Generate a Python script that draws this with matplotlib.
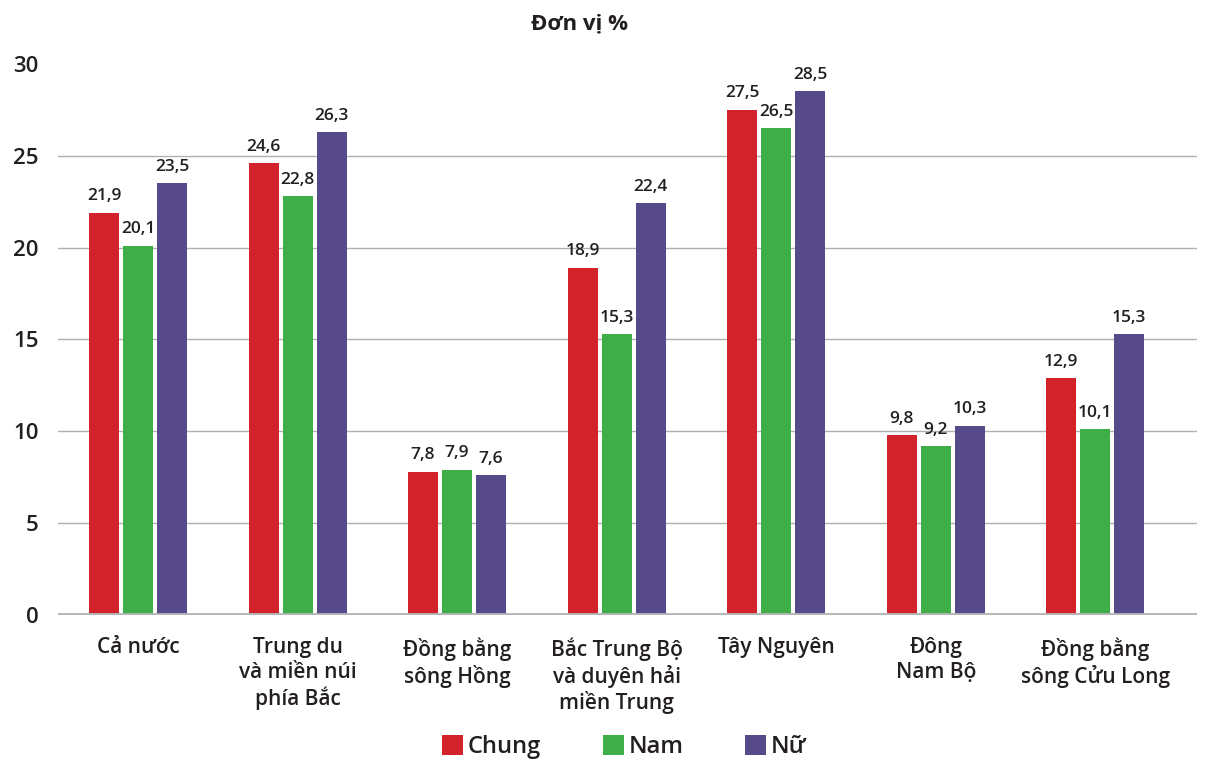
import matplotlib.pyplot as plt
import numpy as np

# Data
categories = ['Cả nước', 'Trung du\nvà miền núi\nphía Bắc', 'Đồng bằng\nsông Hồng',
              'Bắc Trung Bộ\nvà duyên hải\nmiền Trung', 'Tây Nguyên',
              'Đông\nNam Bộ', 'Đồng bằng\nsông Cửu Long']
chung = [21.9, 24.6, 7.8, 18.9, 27.5, 9.8, 12.9]
nam = [20.1, 22.8, 7.9, 15.3, 26.5, 9.2, 10.1]
nu = [23.5, 26.3, 7.6, 22.4, 28.5, 10.3, 15.3]
series_names = ['Chung', 'Nam', 'Nữ']
yticks = [0, 5, 10, 15, 20, 25, 30]

colors = ['#D2232A', '#3EAE49', '#574A8A']
text_color = '#231F20'

plt.rcParams['font.family'] = ['Open Sans', 'DejaVu Sans']

fig = plt.figure(figsize=(12.12, 7.6), dpi=100)
ax = fig.add_axes([0.048, 0.191, 0.940, 0.725])

x = np.arange(len(categories))
bar_width = 0.188
step = 0.213
for i, (vals, name) in enumerate(zip([chung, nam, nu], series_names)):
    pos = x + (i - 1) * step
    ax.bar(pos, vals, width=bar_width, color=colors[i], label=name, zorder=3)
    for p, v in zip(pos, vals):
        ax.text(p, v + 0.45, f'{v:.1f}'.replace('.', ','), ha='center', va='bottom',
                fontsize=12.5, color=text_color, fontweight='semibold')

ax.set_xlim(-0.5, 6.64)
ax.set_ylim(0, 30)
ax.set_yticks(yticks)
ax.set_yticklabels([str(t) for t in yticks], fontsize=16, color=text_color, fontweight='semibold')
ax.set_xticks(x)
ax.set_xticklabels(categories, fontsize=15, color=text_color, fontweight='semibold',
                   linespacing=1.22, va='top')
ax.tick_params(axis='both', length=0)
ax.tick_params(axis='x', pad=16)
ax.tick_params(axis='y', pad=14)

for t in yticks[1:-1]:
    ax.axhline(t, color='#B0B0B0', linewidth=1, zorder=1)
ax.axhline(0, color='#B5B5B8', linewidth=3.5, zorder=4)

for s in ax.spines.values():
    s.set_visible(False)

fig.text(0.478, 0.968, 'Đơn vị %', ha='center', va='center', fontsize=16,
         fontweight='bold', color=text_color)

leg = fig.legend(loc='center', bbox_to_anchor=(0.515, 0.017), ncol=3, frameon=False,
                 fontsize=17, handlelength=0.9, handleheight=0.9, handletextpad=0.2,
                 columnspacing=2.6)
for t in leg.get_texts():
    t.set_color(text_color)
    t.set_fontweight('semibold')

fig.savefig('out.png', dpi=100)
